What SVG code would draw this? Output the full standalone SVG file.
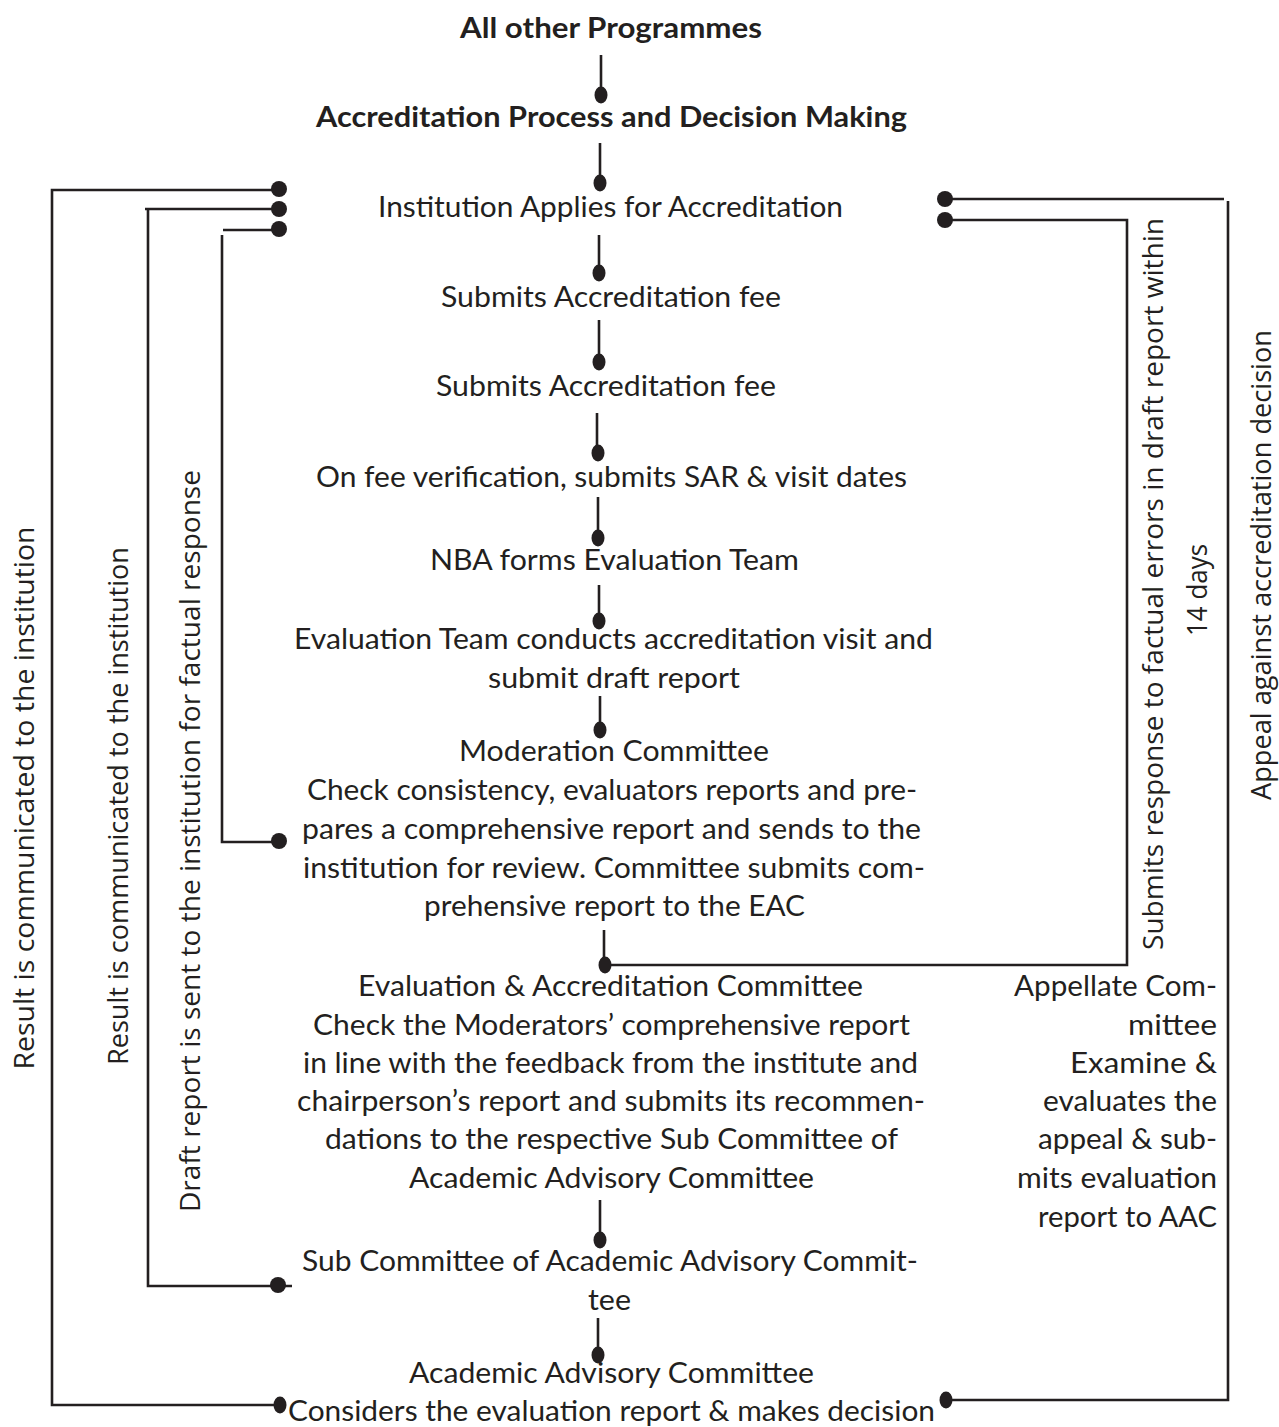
<svg xmlns="http://www.w3.org/2000/svg" width="1279" height="1427" viewBox="0 0 1279 1427">
<style>
  .bg{fill:#ffffff}
  .t{font-family:Lato,"Open Sans","Liberation Sans",sans-serif;font-size:28px;fill:#231f20;text-anchor:middle}
  .b{font-weight:bold}
  .r{text-anchor:end}
  .v{font-family:"Open Sans",Lato,"Liberation Sans",sans-serif;font-size:27px;fill:#231f20;text-anchor:middle}
  .ln{fill:none;stroke:#231f20;stroke-width:2.6}
  .dot{fill:#231f20}
</style>
<rect class="bg" x="0" y="0" width="1279" height="1427"/>

<g id="connectors">
  <line class="ln" x1="601" y1="55" x2="601" y2="95"/><ellipse class="dot" cx="601" cy="95" rx="6.5" ry="8.5"/>
  <line class="ln" x1="600" y1="143" x2="600" y2="183"/><ellipse class="dot" cx="600" cy="183" rx="6.5" ry="8.5"/>
  <line class="ln" x1="599" y1="235" x2="599" y2="273"/><ellipse class="dot" cx="599" cy="273" rx="6.5" ry="8.5"/>
  <line class="ln" x1="599" y1="320" x2="599" y2="362"/><ellipse class="dot" cx="599" cy="362" rx="6.5" ry="8.5"/>
  <line class="ln" x1="597" y1="413" x2="597" y2="453"/><ellipse class="dot" cx="598" cy="453" rx="6.5" ry="8.5"/>
  <line class="ln" x1="598" y1="497" x2="598" y2="538"/><ellipse class="dot" cx="598" cy="538" rx="6.5" ry="8.5"/>
  <line class="ln" x1="599" y1="585" x2="599" y2="621"/><ellipse class="dot" cx="599" cy="621" rx="6.5" ry="8.5"/>
  <line class="ln" x1="600" y1="696" x2="600" y2="730"/><ellipse class="dot" cx="600" cy="730" rx="6.5" ry="8.5"/>
  <line class="ln" x1="604" y1="930" x2="604" y2="965"/>
  <polyline class="ln" points="605,965 1127,965 1127,220 945,220"/>
  <ellipse class="dot" cx="605" cy="965" rx="6.5" ry="8.5"/>
  <circle class="dot" cx="945" cy="220" r="8"/>
  <line class="ln" x1="945" y1="199" x2="1224" y2="199"/>
  <polyline class="ln" points="1228,201 1228,1400 945,1400"/>
  <circle class="dot" cx="945" cy="199" r="8"/>
  <ellipse class="dot" cx="946" cy="1400" rx="6.5" ry="8.5"/>
  <line class="ln" x1="600" y1="1200" x2="600" y2="1240"/><ellipse class="dot" cx="600" cy="1240" rx="6.5" ry="8.5"/>
  <line class="ln" x1="598" y1="1318" x2="598" y2="1355"/><ellipse class="dot" cx="598" cy="1355" rx="6.5" ry="8.5"/>

  <polyline class="ln" points="278,190 52,190 52,1405 280,1405"/>
  <circle class="dot" cx="279" cy="189" r="8"/>
  <ellipse class="dot" cx="280" cy="1405" rx="6.5" ry="8.5"/>
  <polyline class="ln" points="278,209 145,209"/>
  <polyline class="ln" points="148,209 148,1286 292,1286"/>
  <circle class="dot" cx="279" cy="209" r="8"/>
  <circle class="dot" cx="278" cy="1285" r="8"/>
  <line class="ln" x1="223" y1="230" x2="278" y2="230"/>
  <polyline class="ln" points="222,235 222,842 278,842"/>
  <circle class="dot" cx="279" cy="229" r="8"/>
  <circle class="dot" cx="279" cy="841" r="8"/>
</g>

<g id="title">
  <text class="t b" x="611" y="38" textLength="302" lengthAdjust="spacingAndGlyphs">All other Programmes</text>
</g>
<g id="process">
  <text class="t b" x="611.5" y="127" textLength="591" lengthAdjust="spacingAndGlyphs">Accreditation Process and Decision Making</text>
</g>
<g id="apply">
  <text class="t" x="610.5" y="217" textLength="465" lengthAdjust="spacingAndGlyphs">Institution Applies for Accreditation</text>
</g>
<g id="fee1">
  <text class="t" x="611" y="307" textLength="340" lengthAdjust="spacingAndGlyphs">Submits Accreditation fee</text>
</g>
<g id="fee2">
  <text class="t" x="606" y="396" textLength="340" lengthAdjust="spacingAndGlyphs">Submits Accreditation fee</text>
</g>
<g id="verify">
  <text class="t" x="611.5" y="487" textLength="591" lengthAdjust="spacingAndGlyphs">On fee verification, submits SAR &amp; visit dates</text>
</g>
<g id="team">
  <text class="t" x="614.5" y="570" textLength="369" lengthAdjust="spacingAndGlyphs">NBA forms Evaluation Team</text>
</g>
<g id="visit">
  <text class="t" x="613.5" y="649" textLength="639" lengthAdjust="spacingAndGlyphs">Evaluation Team conducts accreditation visit and</text>
  <text class="t" x="614" y="688" textLength="252" lengthAdjust="spacingAndGlyphs">submit draft report</text>
</g>
<g id="moderation">
  <text class="t" x="614" y="761" textLength="310" lengthAdjust="spacingAndGlyphs">Moderation Committee</text>
  <text class="t" x="612" y="800" textLength="610" lengthAdjust="spacingAndGlyphs">Check consistency, evaluators reports and pre-</text>
  <text class="t" x="611.5" y="839" textLength="619" lengthAdjust="spacingAndGlyphs">pares a comprehensive report and sends to the</text>
  <text class="t" x="614" y="878" textLength="622" lengthAdjust="spacingAndGlyphs">institution for review. Committee submits com-</text>
  <text class="t" x="614.5" y="916" textLength="381" lengthAdjust="spacingAndGlyphs">prehensive report to the EAC</text>
</g>
<g id="eac">
  <text class="t" x="610.5" y="996" textLength="505" lengthAdjust="spacingAndGlyphs">Evaluation &amp; Accreditation Committee</text>
  <text class="t" x="611.5" y="1035" textLength="597" lengthAdjust="spacingAndGlyphs">Check the Moderators’ comprehensive report</text>
  <text class="t" x="610.5" y="1073" textLength="615" lengthAdjust="spacingAndGlyphs">in line with the feedback from the institute and</text>
  <text class="t" x="611" y="1111" textLength="628" lengthAdjust="spacingAndGlyphs">chairperson’s report and submits its recommen-</text>
  <text class="t" x="611.5" y="1149" textLength="573" lengthAdjust="spacingAndGlyphs">dations to the respective Sub Committee of</text>
  <text class="t" x="611.5" y="1188" textLength="405" lengthAdjust="spacingAndGlyphs">Academic Advisory Committee</text>
</g>
<g id="subcommittee">
  <text class="t" x="610" y="1271" textLength="616" lengthAdjust="spacingAndGlyphs">Sub Committee of Academic Advisory Commit-</text>
  <text class="t" x="609.5" y="1310" textLength="43" lengthAdjust="spacingAndGlyphs">tee</text>
</g>
<g id="aac">
  <text class="t" x="611.5" y="1383" textLength="405" lengthAdjust="spacingAndGlyphs">Academic Advisory Committee</text>
  <text class="t" x="611.5" y="1421" textLength="647" lengthAdjust="spacingAndGlyphs">Considers the evaluation report &amp; makes decision</text>
</g>
<g id="appellate">
  <text class="t r" x="1217" y="996" textLength="203" lengthAdjust="spacingAndGlyphs">Appellate Com-</text>
  <text class="t r" x="1217" y="1035" textLength="89" lengthAdjust="spacingAndGlyphs">mittee</text>
  <text class="t r" x="1217" y="1073" textLength="147" lengthAdjust="spacingAndGlyphs">Examine &amp;</text>
  <text class="t r" x="1217" y="1111" textLength="174" lengthAdjust="spacingAndGlyphs">evaluates the</text>
  <text class="t r" x="1217" y="1149" textLength="179" lengthAdjust="spacingAndGlyphs">appeal &amp; sub-</text>
  <text class="t r" x="1217" y="1188" textLength="200" lengthAdjust="spacingAndGlyphs">mits evaluation</text>
  <text class="t r" x="1217" y="1227" textLength="179" lengthAdjust="spacingAndGlyphs">report to AAC</text>
</g>

<g id="labels">
  <text class="v" transform="translate(34,798) rotate(-90)" textLength="543" lengthAdjust="spacingAndGlyphs">Result is communicated to the institution</text>
  <text class="v" transform="translate(128,806) rotate(-90)" textLength="518" lengthAdjust="spacingAndGlyphs">Result is communicated to the institution</text>
  <text class="v" transform="translate(200,841) rotate(-90)" textLength="742" lengthAdjust="spacingAndGlyphs">Draft report is sent to the institution for factual response</text>
  <text class="v" transform="translate(1163,584) rotate(-90)" textLength="732" lengthAdjust="spacingAndGlyphs">Submits response to factual errors in draft report within</text>
  <text class="v" transform="translate(1207,590) rotate(-90)" textLength="92" lengthAdjust="spacingAndGlyphs">14 days</text>
  <text class="v" transform="translate(1271,565) rotate(-90)" textLength="470" lengthAdjust="spacingAndGlyphs">Appeal against accreditation decision</text>
</g>
</svg>
